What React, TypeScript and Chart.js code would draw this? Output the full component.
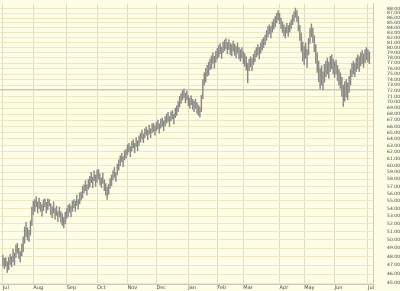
import React, { useEffect, useRef } from "react";
import { Chart, registerables } from "chart.js";

Chart.register(...registerables);

// Daily low / high prices (trading-day index 0 = early July)
const lows: number[] = [
  46.9, 46.6, 46.9, 46.2, 46.5, 47.1, 46.8, 47.4, 47.0, 47.9,
  48.4, 47.8, 47.4, 48.1, 48.6, 49.6, 50.4, 50.0, 49.8, 50.6,
  51.8, 53.2, 53.6, 54.2, 53.4, 54.0, 53.6, 53.0, 53.7, 54.2,
  53.4, 53.8, 54.3, 53.2, 52.8, 53.4, 52.6, 53.1, 52.3, 52.9,
  52.2, 51.8, 51.5, 52.0, 52.7, 52.9, 53.5, 52.9, 53.6, 54.1,
  53.6, 54.4, 53.9, 54.6, 55.1, 55.4, 56.1, 56.4, 55.8, 56.6,
  56.9, 57.5, 56.8, 57.8, 57.0, 57.6, 58.0, 57.2, 56.8, 57.4,
  56.4, 55.8, 55.2, 55.9, 56.7, 57.1, 57.9, 58.3, 57.7, 58.6,
  59.3, 59.9, 60.5, 59.8, 60.8, 61.1, 61.6, 62.0, 61.3, 62.1,
  62.6, 61.9, 62.8, 62.2, 63.0, 63.5, 64.0, 63.4, 64.2, 64.6,
  63.9, 64.8, 64.2, 65.0, 65.2, 64.6, 65.3, 65.6, 64.9, 65.7,
  66.0, 65.3, 66.1, 66.5, 66.8, 66.0, 66.9, 67.2, 66.4, 67.4,
  67.8, 68.4, 69.2, 69.8, 70.4, 70.8, 69.9, 70.4, 69.4, 69.0,
  69.6, 68.8, 68.4, 69.0, 68.1, 67.8, 67.5, 68.4, 70.6, 73.0,
  73.5, 74.6, 74.8, 75.8, 76.0, 77.0, 76.1, 77.2, 77.8, 78.2,
  78.8, 77.9, 79.0, 79.4, 79.8, 78.8, 79.6, 78.7, 78.4, 79.3,
  78.5, 78.0, 78.9, 77.8, 77.4, 78.0, 76.9, 76.4, 75.7, 73.4,
  75.6, 76.3, 75.6, 76.8, 77.3, 78.2, 78.6, 77.8, 78.9, 79.5,
  80.0, 80.6, 81.4, 82.1, 82.7, 81.9, 83.1, 83.7, 84.2, 85.0,
  85.6, 84.8, 83.8, 83.0, 82.3, 81.9, 82.9, 82.2, 83.1, 83.8,
  84.6, 85.3, 86.2, 85.3, 83.3, 81.4, 79.3, 77.4, 76.8, 77.9,
  76.2, 78.6, 80.8, 82.1, 81.0, 79.2, 77.0, 75.3, 73.6, 72.3,
  73.0, 72.2, 73.5, 74.5, 75.0, 74.2, 75.5, 76.0, 75.0, 74.4,
  75.0, 73.8, 73.0, 72.4, 71.0, 69.3, 70.2, 70.9, 70.4, 71.7,
  73.0, 74.5, 75.0, 74.5, 75.5, 76.0, 75.5, 76.5, 76.9, 76.2,
  77.1, 77.7, 77.2, 76.9,
];

const highs: number[] = [
  48.2, 47.8, 47.9, 47.4, 47.9, 48.3, 48.0, 48.9, 48.4, 49.4,
  49.6, 49.0, 48.6, 49.5, 50.4, 51.6, 52.2, 51.5, 51.2, 52.4,
  54.2, 55.0, 55.2, 55.6, 54.9, 55.4, 54.8, 54.5, 55.2, 55.3,
  54.8, 55.3, 55.2, 54.6, 54.2, 54.9, 54.0, 54.3, 53.6, 54.2,
  53.6, 53.3, 52.8, 53.5, 54.0, 54.4, 54.6, 54.3, 55.0, 55.2,
  55.0, 55.8, 55.2, 56.1, 56.2, 57.0, 57.2, 57.8, 57.2, 58.0,
  58.4, 59.0, 58.3, 59.2, 58.6, 59.3, 59.4, 58.8, 58.2, 58.9,
  57.9, 57.4, 56.9, 57.3, 58.1, 58.6, 59.2, 59.7, 59.0, 60.2,
  60.8, 61.4, 61.8, 61.3, 62.2, 62.4, 63.1, 63.3, 62.8, 63.6,
  63.9, 63.3, 64.2, 63.7, 64.5, 64.9, 65.4, 64.8, 65.6, 65.9,
  65.4, 66.2, 65.6, 66.4, 66.5, 66.1, 66.7, 67.0, 66.4, 67.2,
  67.4, 66.9, 67.6, 68.0, 68.3, 67.6, 68.4, 68.6, 68.0, 69.0,
  69.4, 70.1, 71.0, 71.5, 72.0, 72.3, 71.6, 72.0, 71.1, 70.7,
  71.1, 70.5, 70.2, 70.5, 69.9, 69.5, 69.2, 71.2, 74.0, 75.2,
  76.0, 76.6, 77.2, 77.8, 78.4, 79.0, 78.3, 79.3, 79.8, 80.4,
  80.8, 80.1, 81.1, 81.5, 81.8, 81.0, 81.6, 80.9, 80.6, 81.3,
  80.7, 80.2, 80.9, 80.0, 79.6, 80.0, 79.2, 78.8, 78.2, 77.0,
  77.8, 78.2, 77.9, 78.7, 79.4, 80.0, 80.6, 80.1, 81.0, 81.6,
  82.0, 82.5, 83.4, 84.2, 84.6, 84.2, 85.2, 85.8, 86.3, 87.0,
  87.6, 87.0, 86.0, 85.2, 84.6, 84.1, 84.9, 84.4, 85.0, 85.6,
  86.6, 87.3, 88.1, 87.6, 86.3, 84.5, 82.9, 81.1, 80.2, 80.9,
  79.6, 81.8, 83.8, 84.8, 83.9, 82.4, 80.6, 79.0, 77.4, 76.0,
  76.5, 75.4, 76.8, 77.4, 78.0, 77.2, 78.3, 78.6, 77.8, 77.2,
  77.6, 76.6, 75.8, 75.2, 74.4, 73.0, 73.6, 74.0, 73.4, 74.6,
  75.8, 77.0, 77.4, 77.0, 78.0, 78.6, 78.2, 79.0, 79.4, 78.8,
  79.6, 80.0, 79.6, 79.2,
];

// Month labels and the trading-day index where each month starts
const monthLabels: string[] = ["Jul", "Aug", "Sep", "Oct", "Nov", "Dec", "Jan", "Feb", "Mar", "Apr", "May", "Jun", "Jul"];
const monthStarts: number[] = [0, 21, 44, 65, 86, 106, 128, 148, 166, 191, 208, 229, 252];

// Price tick labels (every whole dollar)
const priceTicks: number[] = [];
for (let p = 45; p <= 88; p++) priceTicks.push(p);

// Horizontal reference line level
const refLevel = 72.2;

export default function App() {
  const ref = useRef<HTMLCanvasElement | null>(null);

  useEffect(() => {
    if (!ref.current) return;
    const barData = lows.map((lo, i) => ({ x: i, y: [lo, highs[i]] }));
    const chart = new Chart(ref.current, {
      type: "bar",
      data: {
        datasets: [
          {
            type: "line",
            data: [
              { x: -2, y: refLevel },
              { x: 255.5, y: refLevel },
            ],
            borderColor: "#b8c6d2",
            borderWidth: 1,
            pointRadius: 0,
            order: 2,
          } as any,
          {
            type: "bar",
            data: barData as any,
            backgroundColor: "#8a8a86",
            borderWidth: 0,
            barThickness: 0.8,
            grouped: false,
            order: 1,
          } as any,
        ],
      },
      options: {
        animation: false,
        responsive: false,
        maintainAspectRatio: false,
        devicePixelRatio: 1,
        layout: { padding: 0 },
        plugins: {
          legend: { display: false },
          tooltip: { enabled: false },
        },
        scales: {
          x: {
            type: "linear",
            offset: false,
            min: -2,
            max: 255.5,
            afterBuildTicks: (scale: any) => {
              scale.ticks = monthStarts.map((v) => ({ value: v }));
            },
            afterFit: (scale: any) => {
              scale.height = 7;
            },
            ticks: {
              autoSkip: false,
              maxRotation: 0,
              align: "start",
              padding: 1,
              font: { size: 5, family: "DejaVu Sans" },
              color: "#444",
              callback: (v: any) => {
                const idx = monthStarts.indexOf(Number(v));
                return idx >= 0 ? monthLabels[idx] : "";
              },
            },
            grid: { color: "#dedbc8", drawTicks: false, lineWidth: 1, offset: false },
            border: { display: true, color: "#cfcab4" },
          },
          y: {
            type: "logarithmic",
            position: "right",
            min: 44.9,
            max: 89.06,
            afterBuildTicks: (scale: any) => {
              scale.ticks = priceTicks.map((v) => ({ value: v }));
            },
            afterFit: (scale: any) => {
              scale.width = 27;
            },
            ticks: {
              autoSkip: false,
              crossAlign: "far",
              padding: 1,
              font: { size: 4.5, family: "DejaVu Sans" },
              color: "#444",
              callback: (v: any) => Number(v).toFixed(2),
            },
            grid: { color: "#efe7c4", drawTicks: false, lineWidth: 1 },
            border: { display: true, color: "#cfcab4" },
          },
        },
      } as any,
    });
    return () => chart.destroy();
  }, []);

  return (
    <div style={{ position: "fixed", left: 0, top: 0, width: 400, height: 291, background: "#fefde6" }}>
      <canvas ref={ref} width={400} height={291} style={{ display: "block", width: 400, height: 291 }} />
    </div>
  );
}
